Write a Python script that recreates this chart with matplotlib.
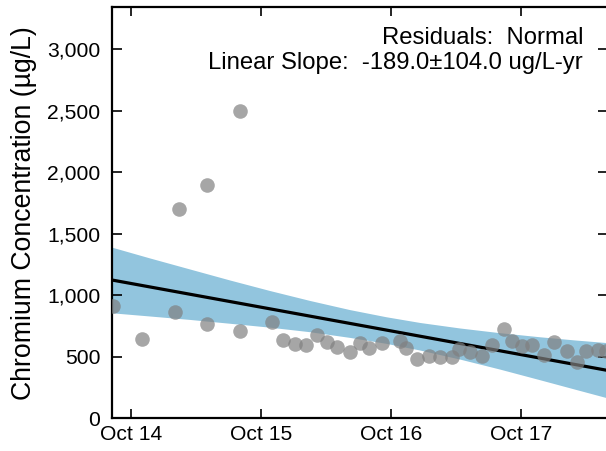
import matplotlib
matplotlib.use('Agg')
import matplotlib.pyplot as plt
import matplotlib.dates as mdates
import matplotlib.ticker as ticker
import pandas as pd

plt.rcParams['font.family'] = ['Liberation Sans', 'DejaVu Sans']

# sample dates and chromium values (ug/L)
sample_dates = ['2014-08-10', '2014-11-01', '2015-02-02', '2015-02-11', '2015-05-02',
                '2015-05-02', '2015-08-02', '2015-08-02', '2015-11-01', '2015-12-02',
                '2016-01-04', '2016-02-04', '2016-03-07', '2016-04-04', '2016-05-02',
                '2016-06-07', '2016-07-05', '2016-07-30', '2016-09-06', '2016-10-26',
                '2016-11-13', '2016-12-13', '2017-01-15', '2017-02-15', '2017-03-20',
                '2017-04-11', '2017-05-11', '2017-06-13', '2017-07-11', '2017-08-14',
                '2017-09-05', '2017-10-03', '2017-11-02', '2017-12-05', '2018-01-03',
                '2018-02-07', '2018-03-07', '2018-04-02', '2018-05-07', '2018-05-29']
chromium = [917, 647, 869, 1705, 1898,
            768, 2498, 710, 788, 638,
            608, 598, 679, 619, 578,
            537, 611, 570, 610, 628,
            570, 487, 506, 497, 497,
            562, 543, 509, 594, 728,
            630, 590, 600, 519, 620,
            550, 457, 549, 557, 548]

# linear trend and confidence band
trend_dates = ['2014-08-06', '2018-06-03']
trend_values = [1126, 390]
band_dates = ['2014-08-06', '2014-11-21', '2015-03-14', '2015-07-04', '2015-10-25',
              '2016-02-15', '2016-06-06', '2016-09-16', '2016-12-21', '2017-04-13',
              '2017-08-03', '2017-11-23', '2018-03-02', '2018-06-03']
band_upper = [1393, 1305, 1215, 1126, 1040, 959, 885, 827, 780, 735, 697, 664, 638, 616]
band_lower = [859, 833, 805, 774, 742, 705, 659, 611, 556, 482, 401, 315, 238, 166]

residuals = 'Normal'
slope_text = '-189.0\u00b1104.0 ug/L-yr'

fig = plt.figure(figsize=(6.06, 4.51), dpi=100)
ax = fig.add_axes([0.184, 0.0721, 0.8193, 0.9113])

ax.fill_between(pd.to_datetime(band_dates), band_lower, band_upper,
                color='#92c5de', linewidth=0, zorder=1)
ax.plot(pd.to_datetime(trend_dates), trend_values, color='black', linewidth=2.3, zorder=2)
ax.scatter(pd.to_datetime(sample_dates), chromium, s=110, color='#808080',
           alpha=0.7, linewidths=0, zorder=3)

ax.set_xlim(pd.Timestamp('2014-08-06'), pd.Timestamp('2018-06-03'))
ax.set_ylim(0, 3340)
ax.xaxis.set_major_locator(mdates.MonthLocator(bymonth=10))
ax.xaxis.set_major_formatter(mdates.DateFormatter('%b %y'))
ax.yaxis.set_major_locator(ticker.MultipleLocator(500))
ax.yaxis.set_major_formatter(ticker.FuncFormatter(lambda v, p: '{:,.0f}'.format(v)))

for s in ax.spines.values():
    s.set_linewidth(1.6)
ax.tick_params(axis='both', direction='in', width=1.2, labelsize=15.2,
               top=True, right=True)
ax.tick_params(axis='y', length=7.5, pad=8)
ax.tick_params(axis='x', length=6.5, pad=5)

ax.set_ylabel('Chromium Concentration (\u00b5g/L)', fontsize=19.2, labelpad=7)

ax.text(0.9497, 0.926, 'Residuals:  ' + residuals, transform=ax.transAxes,
        ha='right', va='center', fontsize=17.2)
ax.text(0.9497, 0.865, 'Linear Slope:  ' + slope_text, transform=ax.transAxes,
        ha='right', va='center', fontsize=17.2)

fig.savefig('out.png', dpi=100)
